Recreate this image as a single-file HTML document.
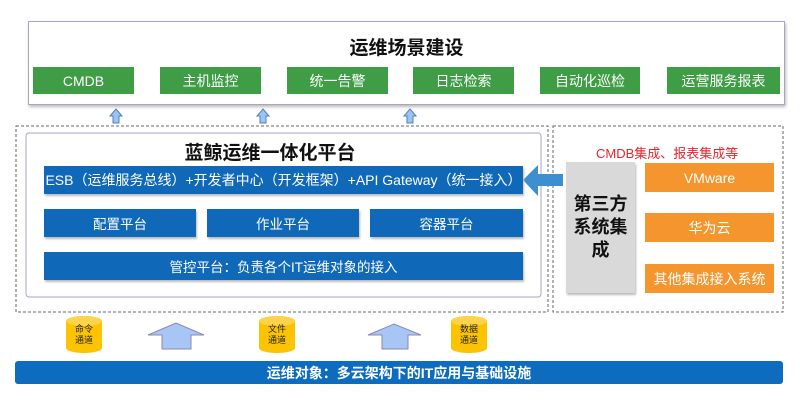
<!DOCTYPE html>
<html><head><meta charset="utf-8"><style>
*{margin:0;padding:0;box-sizing:border-box}
body{width:800px;height:405px;background:#fff;position:relative;overflow:hidden;font-family:"Liberation Sans","Noto Sans CJK SC",sans-serif}
.a{position:absolute}
.g{position:absolute;background:#3f9e45;color:#fff;font-size:14px;display:flex;align-items:center;justify-content:center;top:67px;height:27px}
.b{position:absolute;background:#1068b8;color:#fff;font-size:13.5px;display:flex;align-items:center;justify-content:center;box-shadow:1px 2px 2px #bbb;white-space:nowrap}
.o{position:absolute;background:#f5952e;color:#fff;font-size:14px;display:flex;align-items:center;justify-content:center;left:645px;width:129px;height:29px}
.cyl{position:absolute;width:36px;height:37px;top:316px}
.cyl span{position:absolute;left:0;width:36px;top:8px;text-align:center;font-size:9px;line-height:11px;color:#222}
</style></head><body>
<div class="a" style="left:28px;top:21px;width:757px;height:84px;border:1px solid #a9a4c4;box-shadow:1px 2px 3px #bbb"></div>
<div class="a" style="left:28px;top:33px;width:757px;text-align:center;font-size:19px;font-weight:bold;color:#111">运维场景建设</div>
<div class="g" style="left:33px;width:101px">CMDB</div>
<div class="g" style="left:160px;width:101px">主机监控</div>
<div class="g" style="left:287px;width:101px">统一告警</div>
<div class="g" style="left:413px;width:101px">日志检索</div>
<div class="g" style="left:540px;width:100px">自动化巡检</div>
<div class="g" style="left:667px;width:113px">运营服务报表</div>
<svg class="a" style="left:0;top:0" width="800" height="405">
<g fill="#9ec3f0" stroke="#4f7fc0" stroke-width="1">
<path d="M116 109 L122 116 L119 116 L119 123 L113 123 L113 116 L110 116Z"/>
<path d="M263 109 L269 116 L266 116 L266 123 L260 123 L260 116 L257 116Z"/>
<path d="M410 109 L416 116 L413 116 L413 123 L407 123 L407 116 L404 116Z"/>
</g>
<rect x="16" y="126" width="532" height="186" fill="none" stroke="#666" stroke-dasharray="3,2"/>
<rect x="553" y="126" width="230" height="186" fill="none" stroke="#666" stroke-dasharray="3,2"/>
<rect x="26" y="133" width="515" height="164" rx="3" fill="#fff" stroke="#a9a4c4" />
<path d="M523 180 L538 165 L538 174 L563 174 L563 186 L538 186 L538 196Z" fill="#3d8fd0"/>
<g fill="#a8c6f5" stroke="#8a86b8">
<path d="M148 335 L176 323 L204 335 L191 335 L191 349 L162 349 L162 335Z"/>
<path d="M368 335 L394 324 L421 335 L408 335 L408 349 L382 349 L382 335Z"/>
</g>
<rect x="15" y="361" width="768" height="23" rx="3" fill="#0e6cbf"/>
</svg>
<div class="a" style="left:100px;top:138px;width:340px;text-align:center;font-size:19px;font-weight:bold;color:#111">蓝鲸运维一体化平台</div>
<div class="b" style="left:44px;top:166px;width:479px;height:28px;font-size:14px">ESB（运维服务总线）+开发者中心（开发框架）+API Gateway（统一接入）</div>
<div class="b" style="left:44px;top:209px;width:152px;height:28px">配置平台</div>
<div class="b" style="left:207px;top:209px;width:152px;height:28px">作业平台</div>
<div class="b" style="left:370px;top:209px;width:153px;height:28px">容器平台</div>
<div class="b" style="left:44px;top:252px;width:479px;height:28px">管控平台：负责各个IT运维对象的接入</div>
<div class="a" style="left:596px;top:143px;font-size:13px;color:#e8242a">CMDB集成、报表集成等</div>
<div class="a" style="left:566px;top:162px;width:69px;height:131px;background:#d9d9d9;box-shadow:1px 2px 2px #bbb;display:flex;align-items:center;justify-content:center;text-align:center;font-size:18px;font-weight:bold;line-height:23px;color:#111;padding:0 3px">第三方系统集成</div>
<div class="o" style="top:163px">VMware</div>
<div class="o" style="top:213px">华为云</div>
<div class="o" style="top:264px">其他集成接入系统</div>
<div class="cyl" style="left:66px"><svg width="36" height="37"><path d="M0 5 A18 5 0 0 1 36 5 L36 32 A18 5 0 0 1 0 32Z" fill="#fbc300"/><ellipse cx="18" cy="5" rx="18" ry="5" fill="#fdd34a"/></svg><span>命令<br>通道</span></div>
<div class="cyl" style="left:259px"><svg width="36" height="37"><path d="M0 5 A18 5 0 0 1 36 5 L36 32 A18 5 0 0 1 0 32Z" fill="#fbc300"/><ellipse cx="18" cy="5" rx="18" ry="5" fill="#fdd34a"/></svg><span>文件<br>通道</span></div>
<div class="cyl" style="left:451px"><svg width="36" height="37"><path d="M0 5 A18 5 0 0 1 36 5 L36 32 A18 5 0 0 1 0 32Z" fill="#fbc300"/><ellipse cx="18" cy="5" rx="18" ry="5" fill="#fdd34a"/></svg><span>数据<br>通道</span></div>
<div class="a" style="left:15px;top:361px;width:768px;height:23px;display:flex;align-items:center;justify-content:center;color:#fff;font-weight:bold;font-size:14px">运维对象：多云架构下的IT应用与基础设施</div>
</body></html>
